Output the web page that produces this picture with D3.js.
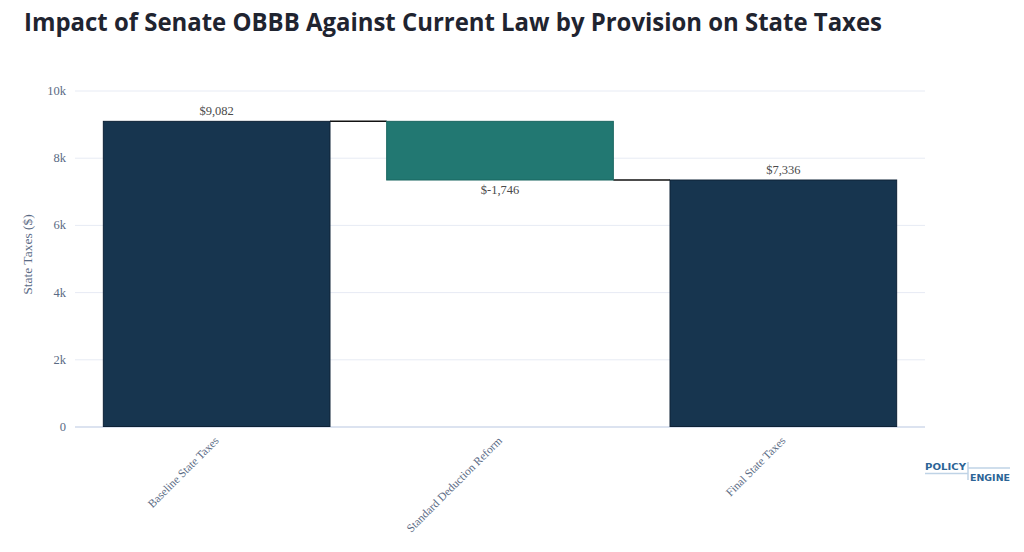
<!DOCTYPE html>
<html><head><meta charset="utf-8">
<script src="https://cdn.jsdelivr.net/npm/d3@7/dist/d3.min.js"></script>
<style>
html,body{margin:0;padding:0;background:#fff;}
svg{display:block;}
</style></head>
<body>
<svg id="chart" width="1024" height="552"></svg>
<script>
const categories = ["Baseline State Taxes", "Standard Deduction Reform", "Final State Taxes"];
const measures = ["absolute", "relative", "total"];
const values = [9082, -1746, 7336];
const valueLabels = ["$9,082", "$-1,746", "$7,336"];
const yTicks = [0, 2000, 4000, 6000, 8000, 10000];
const yTickLabels = ["0", "2k", "4k", "6k", "8k", "10k"];

const svg = d3.select("#chart");
const margin = {left: 75, right: 99, top: 90.5, bottom: 125.5};
const W = 1024, H = 552;

const x = d3.scaleBand().domain(categories).range([margin.left, W - margin.right]).paddingInner(0.2).paddingOuter(0.1);
const y = d3.scaleLinear().domain([0, 10000]).range([H - margin.bottom, margin.top]);

let running = 0;
const segs = categories.map((c, i) => {
  let base, top;
  if (measures[i] === "absolute") { base = 0; top = values[i]; running = values[i]; }
  else if (measures[i] === "relative") { base = running; top = running + values[i]; running = top; }
  else { base = 0; top = values[i]; running = values[i]; }
  return {c, lo: Math.min(base, top), hi: Math.max(base, top), end: top, v: values[i], label: valueLabels[i], m: measures[i]};
});

// title
svg.append("text").attr("x", 24).attr("y", 31)
  .attr("font-family", "'Open Sans', sans-serif").attr("font-weight", 700)
  .attr("font-size", 25.5).attr("fill", "#1f2430")
  .attr("textLength", 858).attr("lengthAdjust", "spacingAndGlyphs")
  .text("Impact of Senate OBBB Against Current Law by Provision on State Taxes");

// gridlines
const yAxis = d3.axisLeft(y).tickValues(yTicks).tickFormat((d, i) => yTickLabels[i]).tickSize(-(W - margin.left - margin.right)).tickPadding(9);
const gy = svg.append("g").attr("transform", `translate(${margin.left},0)`).call(yAxis);
gy.select(".domain").remove();
gy.selectAll(".tick line").attr("stroke", "#E7EBF4").attr("stroke-width", 1);
gy.selectAll(".tick").filter(d => d === 0).select("line").attr("stroke", "#DCE3F0").attr("stroke-width", 2);
gy.selectAll(".tick text").attr("font-family", "'Liberation Serif', serif").attr("font-size", 12.5).attr("fill", "#5A6A84");

// y axis title
svg.append("text").attr("transform", `translate(32,${(y(0)+y(10000))/2 - 4}) rotate(-90)`)
  .attr("text-anchor", "middle").attr("font-family", "'Liberation Serif', serif")
  .attr("font-size", 13.5).attr("fill", "#5A6A84").text("State Taxes ($)");

// connectors
for (let i = 0; i < segs.length - 1; i++) {
  const yy = y(segs[i].end);
  svg.append("line")
    .attr("x1", x(categories[i]) + x.bandwidth()).attr("x2", x(categories[i+1]))
    .attr("y1", yy).attr("y2", yy).attr("stroke", "#111").attr("stroke-width", 1.5);
}

// bars
const fills = {absolute: "#17354F", total: "#17354F", relative: "#227872"};
const strokes = {absolute: "#0E2236", total: "#0E2236", relative: "#1A6660"};
svg.selectAll("rect.bar").data(segs).join("rect").attr("class", "bar")
  .attr("x", d => x(d.c)).attr("width", x.bandwidth())
  .attr("y", d => y(d.hi)).attr("height", d => y(d.lo) - y(d.hi))
  .attr("fill", d => fills[d.m]).attr("stroke", d => strokes[d.m]).attr("stroke-width", 1);

// value labels
svg.selectAll("text.val").data(segs).join("text").attr("class", "val")
  .attr("x", d => x(d.c) + x.bandwidth() / 2)
  .attr("y", d => d.v >= 0 ? y(d.hi) - 6 : y(d.lo) + 14)
  .attr("text-anchor", "middle").attr("font-family", "'Liberation Serif', serif")
  .attr("font-size", 12.5).attr("fill", "#4a4a4a").text(d => d.label);

// x axis labels
const xAxis = d3.axisBottom(x).tickSize(0).tickPadding(0);
const gx = svg.append("g").attr("transform", `translate(0,${y(0) + 12})`).call(xAxis);
gx.select(".domain").remove();
gx.selectAll(".tick text")
  .attr("font-family", "'Liberation Serif', serif").attr("font-size", 11.5).attr("fill", "#5A6A84")
  .attr("text-anchor", "end").attr("dy", "0.35em").attr("y", 0)
  .attr("transform", "rotate(-45)");

// logo
const logo = svg.append("g").attr("font-family", "'DejaVu Sans', sans-serif").attr("font-weight", 700)
  .attr("font-size", 9.5).attr("fill", "#2C6496");
logo.append("text").attr("x", 925).attr("y", 470).attr("textLength", 41).attr("lengthAdjust", "spacingAndGlyphs").text("POLICY");
logo.append("text").attr("x", 970).attr("y", 481).attr("textLength", 40).attr("lengthAdjust", "spacingAndGlyphs").text("ENGINE");
logo.append("line").attr("x1", 925).attr("x2", 968).attr("y1", 473.5).attr("y2", 473.5).attr("stroke", "#BFD3E6").attr("stroke-width", 1.5);
logo.append("line").attr("x1", 968).attr("x2", 968).attr("y1", 462).attr("y2", 480).attr("stroke", "#BFD3E6").attr("stroke-width", 1.5);
logo.append("line").attr("x1", 968).attr("x2", 1010).attr("y1", 468).attr("y2", 468).attr("stroke", "#BFD3E6").attr("stroke-width", 1.5);
</script>
</body></html>
